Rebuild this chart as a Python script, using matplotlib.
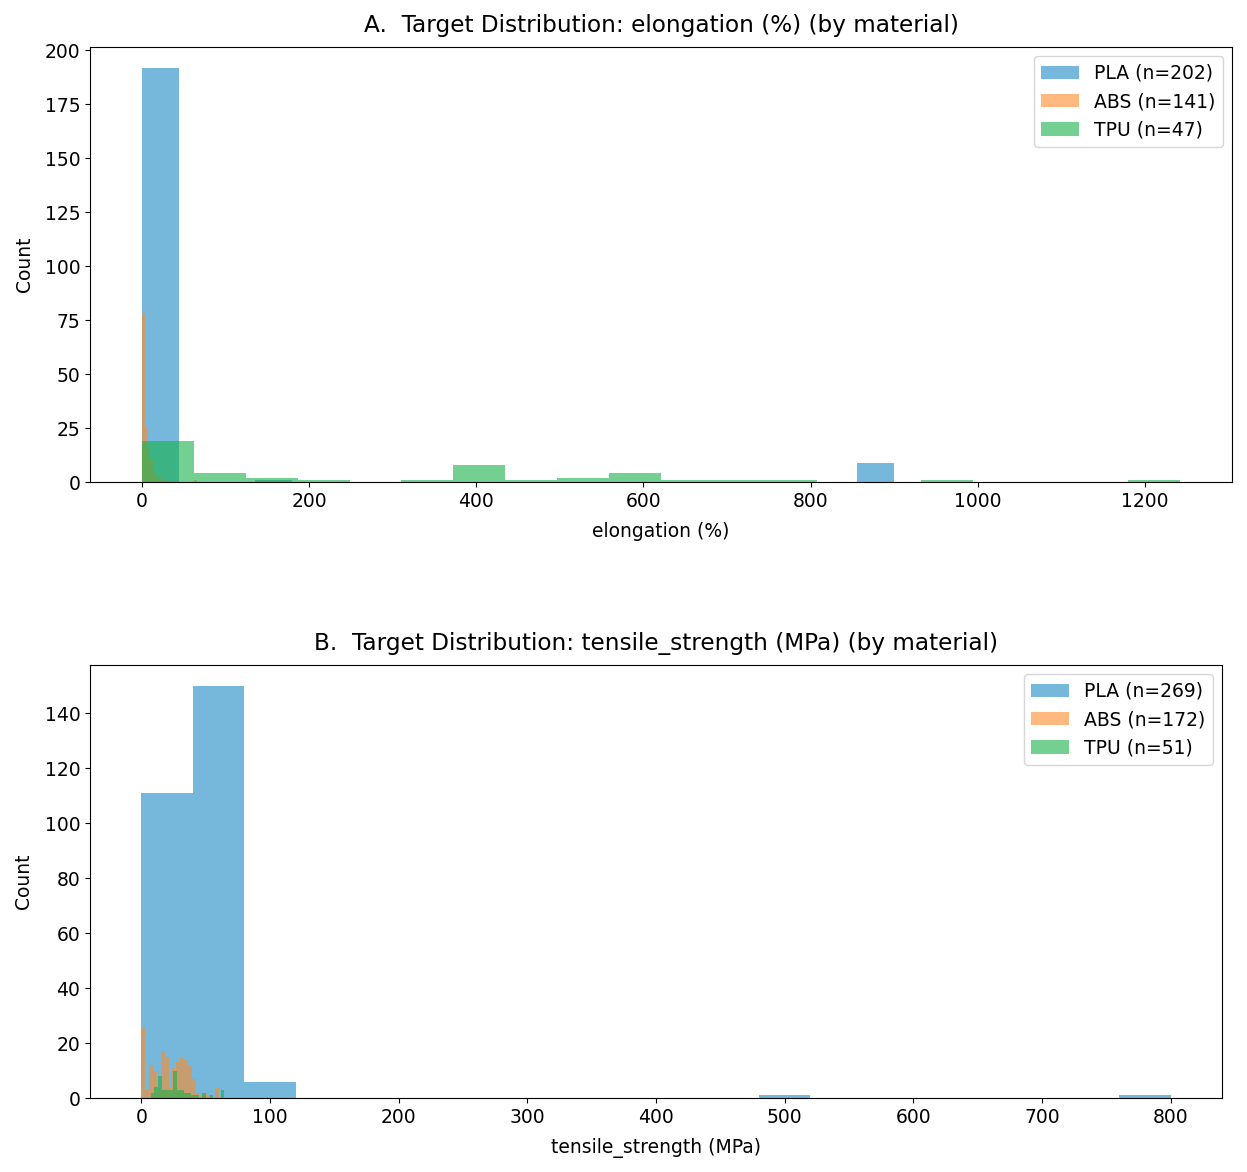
import numpy as np
import matplotlib
matplotlib.use('Agg')
import matplotlib.pyplot as plt

# colours (alpha applied when drawing)
colors = ['#198ac3', '#ff8a26', '#17b148']
materials = ['PLA', 'ABS', 'TPU']

# panel A: elongation (%), 20 bins per material
elong_range = {'PLA': (0, 900), 'ABS': (0, 66), 'TPU': (0, 1242)}
elong_counts = {
    'PLA': [192, 0, 0, 1, 0, 0, 0, 0, 0, 0, 0, 0, 0, 0, 0, 0, 0, 0, 0, 9],
    'ABS': [78, 25, 15, 10, 5, 3, 2, 1, 1, 0, 0, 0, 0, 0, 0, 0, 0, 0, 0, 1],
    'TPU': [19, 4, 2, 1, 0, 1, 8, 1, 2, 4, 1, 1, 1, 0, 0, 1, 0, 0, 0, 1],
}

# panel B: tensile strength (MPa), 20 bins per material
tens_range = {'PLA': (0, 800), 'ABS': (0, 60), 'TPU': (7.2, 64.5)}
tens_counts = {
    'PLA': [111, 150, 6, 0, 0, 0, 0, 0, 0, 0, 0, 0, 1, 0, 0, 0, 0, 0, 0, 1],
    'ABS': [26, 3, 12, 10, 3, 17, 15, 4, 11, 13, 15, 14, 12, 7, 2, 1, 2, 1, 0, 4],
    'TPU': [2, 4, 8, 3, 3, 3, 10, 3, 3, 2, 2, 1, 1, 0, 2, 0, 1, 0, 0, 3],
}


def draw(ax, rng, counts, title, xlabel):
    for m, c in zip(materials, colors):
        lo, hi = rng[m]
        edges = np.linspace(lo, hi, len(counts[m]) + 1)
        n = sum(counts[m])
        ax.hist(edges[:-1], bins=edges, weights=counts[m], color=c, alpha=0.6,
                linewidth=0, label=f'{m} (n={n})')
    ax.set_title(title, fontsize=16.7, pad=11)
    ax.set_xlabel(xlabel, fontsize=13.5, labelpad=8)
    ax.set_ylabel('Count', fontsize=13.5, labelpad=8)
    ax.tick_params(labelsize=13.5)
    ax.legend(loc='upper right', fontsize=13.5)


fig = plt.figure(figsize=(12.47, 11.72), dpi=100)
ax1 = fig.add_axes([0.0722, 0.5887, 0.9158, 0.3712])
ax2 = fig.add_axes([0.0722, 0.0631, 0.9078, 0.3695])

draw(ax1, elong_range, elong_counts,
     'A.  Target Distribution: elongation (%) (by material)', 'elongation (%)')
ax1.set_ylim(0, 201.6)
ax1.set_xlim(-62, 1304)
ax1.set_yticks(np.arange(0, 201, 25))

draw(ax2, tens_range, tens_counts,
     'B.  Target Distribution: tensile_strength (MPa) (by material)', 'tensile_strength (MPa)')
ax2.set_ylim(0, 157.5)
ax2.set_xlim(-40, 840)

fig.savefig('out.png', dpi=100)
